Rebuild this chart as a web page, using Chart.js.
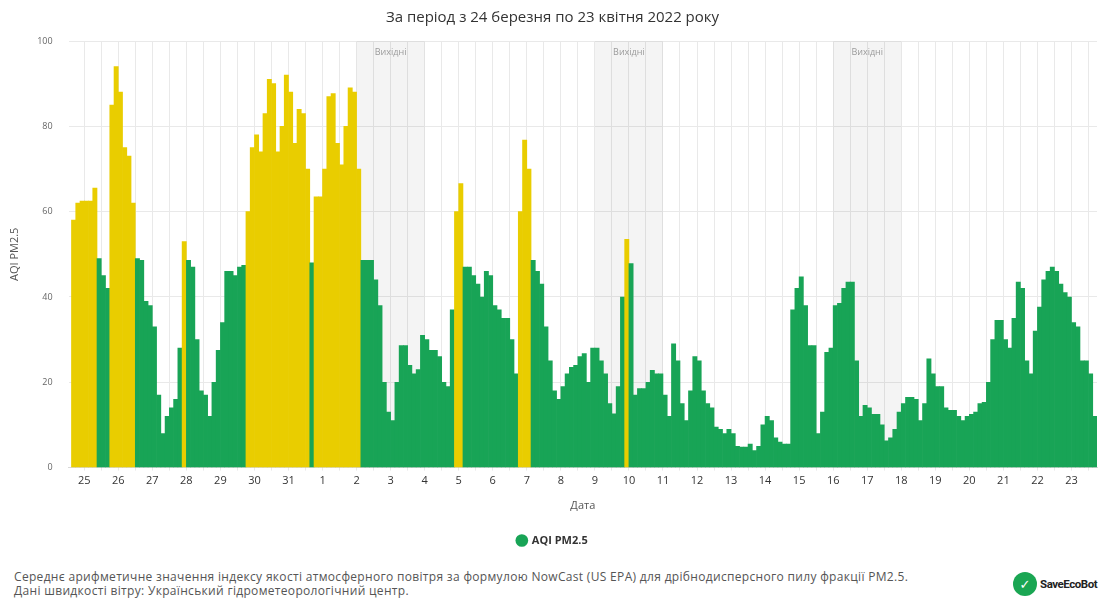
<!DOCTYPE html>
<html lang="uk">
<head>
<meta charset="utf-8">
<title>AQI PM2.5</title>
<script src="https://cdn.jsdelivr.net/npm/chart.js@4.4.1/dist/chart.umd.min.js"></script>
<style>
    html, body { margin: 0; padding: 0; background: #fff; }
    body { width: 1099px; height: 599px; position: relative; overflow: hidden; font-family: "Open Sans", "DejaVu Sans", sans-serif; }
    #chartBox { position: absolute; left: 0; top: 0; width: 1099px; height: 558px; }
    .note { position: absolute; left: 14px; top: 570px; font-size: 12px; letter-spacing: 0.32px; line-height: 14px; color: #555; white-space: nowrap; }
    .logo { position: absolute; left: 1013px; top: 571px; height: 26px; display: flex; align-items: center; }
    .logo .dot { width: 24px; height: 24px; border-radius: 50%; background: #1aa653; color: #fff; font-weight: bold; font-size: 13px; display: flex; align-items: center; justify-content: center; }
    .logo .name { margin-left: 3px; font-family: Roboto, "DejaVu Sans Condensed", sans-serif; font-weight: bold; font-size: 11.5px; color: #222; letter-spacing: -0.45px; }
</style>
</head>
<body>
<div id="chartBox"><canvas id="aqiChart"></canvas></div>
<div class="note">
    Середнє арифметичне значення індексу якості атмосферного повітря за формулою NowCast (US EPA) для дрібнодисперсного пилу фракції PM2.5.<br>
    Дані швидкості вітру: Український гідрометеорологічний центр.
</div>
<div class="logo"><div class="dot">✓</div><div class="name">SaveEcoBot</div></div>

<script>
    // --- ДАНІ ---
    // підписи днів (опівніч кожного дня, від 25 березня)
    const dayLabels = ['25', '26', '27', '28', '29', '30', '31', '1', '2', '3', '4', '5', '6', '7', '8',
        '9', '10', '11', '12', '13', '14', '15', '16', '17', '18', '19', '20', '21', '22', '23'];

    // перший інтервал починається о 15:00 24 березня, крок 3 години
    const firstBinHour = -9;
    const binHours = 3;
    const aqiValues = [
        58, 62, 62.5,                                   // 24.03
        62.5, 62.5, 65.5, 49, 45, 42, 85, 94,           // 25.03
        88, 75, 73, 62, 49, 48.6, 39, 38,               // 26.03
        33, 17, 8, 12, 14, 16, 28, 53,                  // 27.03
        48.6, 47, 30, 18, 17, 12, 20, 27.5,             // 28.03
        34, 46, 46, 45, 47, 47.4, 60, 75,               // 29.03
        78, 74, 83, 91, 90, 74, 80, 92,                 // 30.03
        88, 76, 84, 83, 70, 48, 63.5, 63.5,             // 31.03
        70, 87, 87.7, 76, 71, 80, 89, 88,               // 01.04
        70, 48.6, 48.6, 48.6, 44, 38, 20, 13,           // 02.04
        11, 20, 28.6, 28.6, 24, 22, 23, 31,             // 03.04
        30, 27.5, 27.5, 26, 20, 19, 37, 60,             // 04.04
        66.6, 47, 47, 45, 43, 40, 46, 45,               // 05.04
        38, 37, 35, 35, 30, 22, 60, 76.8,               // 06.04
        70, 48.6, 46, 43, 33, 25, 18, 16,               // 07.04
        19, 22, 23.5, 24, 26, 26.7, 20, 28,             // 08.04
        28, 25, 22, 15, 12.6, 19, 40, 53.5,             // 09.04
        47.8, 17, 18.5, 18.5, 20, 22.8, 22, 22,         // 10.04
        17, 12, 29, 25, 15, 11, 18, 26,                 // 11.04
        25, 18, 15, 14, 9.5, 9, 8, 9,                   // 12.04
        8, 5, 4.8, 4.8, 5.5, 4, 5, 10,                  // 13.04
        12, 11, 7, 6, 5.5, 5.5, 37, 42,                 // 14.04
        44.7, 38, 28.6, 28.6, 8, 13, 27, 28,            // 15.04
        38, 38.5, 42, 43.5, 43.5, 25, 12, 14.6,         // 16.04
        14, 12.5, 12.5, 10, 6.3, 7, 9, 13,              // 17.04
        15, 16.5, 16.5, 16, 11, 15, 25.5, 22,           // 18.04
        19, 19, 14, 13.4, 13.4, 12, 11, 12,             // 19.04
        12.5, 13, 15, 15.3, 20, 30, 34.5, 34.5,         // 20.04
        30, 28, 35, 43.5, 42, 25, 22, 32,               // 21.04
        37.6, 44, 46, 47, 46, 43, 41, 40,               // 22.04
        34, 33, 25, 25, 22, 12                          // 23.04
    ];

    // вихідні: індекси днів у dayLabels (субота, неділя)
    const weekendStartDays = [8, 15, 22];
    const weekendLength = 2;

    const yTicks = [0, 20, 40, 60, 80, 100];
    const aqiThreshold = 50;

    // --- КОЛЬОРИ ---
    const GREEN = '#18a456';
    const YELLOW = '#e9cd00';

    const barPoints = aqiValues.map((v, i) => ({ x: firstBinHour + i * binHours + binHours / 2, y: v }));

    const weekendBands = {
        id: 'weekendBands',
        beforeDatasetsDraw(chart) {
            const { ctx, chartArea, scales: { x } } = chart;
            ctx.save();
            weekendStartDays.forEach(day => {
                const x0 = x.getPixelForValue(day * 24);
                const x1 = x.getPixelForValue((day + weekendLength) * 24);
                ctx.fillStyle = 'rgba(0, 0, 0, 0.045)';
                ctx.fillRect(x0, chartArea.top, x1 - x0, chartArea.bottom - chartArea.top);
                ctx.fillStyle = '#9a9a9a';
                ctx.font = '9px "Open Sans", sans-serif';
                ctx.textAlign = 'center';
                ctx.textBaseline = 'middle';
                ctx.fillText('Вихідні', (x0 + x1) / 2, chartArea.top + 11);
            });
            ctx.restore();
        }
    };

    const ctx = document.getElementById('aqiChart').getContext('2d');
    new Chart(ctx, {
        type: 'bar',
        data: {
            datasets: [{
                label: 'AQI PM2.5',
                data: barPoints,
                backgroundColor: c => (c.raw && c.raw.y > aqiThreshold ? YELLOW : GREEN),
                borderWidth: 0,
                barPercentage: 1,
                categoryPercentage: 1
            }]
        },
        options: {
            responsive: true,
            maintainAspectRatio: false,
            animation: false,
            layout: { padding: { left: 8, right: 2, top: 0, bottom: 2 } },
            scales: {
                x: {
                    type: 'linear',
                    offset: false,
                    min: -11,
                    max: 714,
                    afterBuildTicks: axis => {
                        axis.ticks = [];
                        for (let h = 0; h <= dayLabels.length * 24 - 12; h += 12) axis.ticks.push({ value: h });
                    },
                    ticks: {
                        autoSkip: false,
                        maxRotation: 0,
                        padding: 4,
                        color: '#333',
                        font: { size: 11, family: '"Open Sans", sans-serif' },
                        callback: v => (v % 24 === 0 ? dayLabels[v / 24] : '')
                    },
                    grid: { color: '#e9e9e9', tickLength: 3, tickColor: '#e9e9e9', offset: false },
                    border: { display: true, color: '#d8d8d8' },
                    title: { display: true, text: 'Дата', color: '#555', font: { size: 11, family: '"Open Sans", sans-serif' }, padding: { top: 7, bottom: 9 } }
                },
                y: {
                    min: 0,
                    max: 100,
                    afterBuildTicks: axis => { axis.ticks = yTicks.map(v => ({ value: v })); },
                    ticks: { color: '#666', padding: 16, font: { size: 9, family: '"Open Sans", sans-serif' } },
                    grid: { color: '#e9e9e9', drawTicks: false },
                    border: { display: false },
                    title: { display: true, text: 'AQI PM2.5', color: '#555', font: { size: 11, family: '"Open Sans", sans-serif' }, padding: { top: 0, bottom: 0 } }
                }
            },
            plugins: {
                title: {
                    display: true,
                    text: 'За період з 24 березня по 23 квітня 2022 року',
                    color: '#333',
                    font: { size: 15, weight: 'normal', family: '"Open Sans", sans-serif' },
                    padding: { top: 9, bottom: 14 }
                },
                legend: {
                    position: 'bottom',
                    labels: {
                        usePointStyle: true,
                        boxWidth: 9,
                        boxHeight: 9,
                        padding: 14,
                        color: '#333',
                        font: { size: 11, weight: 'bold', family: '"Open Sans", sans-serif' },
                        generateLabels: () => [{
                            text: 'AQI PM2.5', fillStyle: GREEN, strokeStyle: GREEN, lineWidth: 0,
                            pointStyle: 'circle', hidden: false, datasetIndex: 0, fontColor: '#333'
                        }]
                    }
                },
                tooltip: { enabled: false }
            }
        },
        plugins: [weekendBands]
    });
</script>
</body>
</html>
